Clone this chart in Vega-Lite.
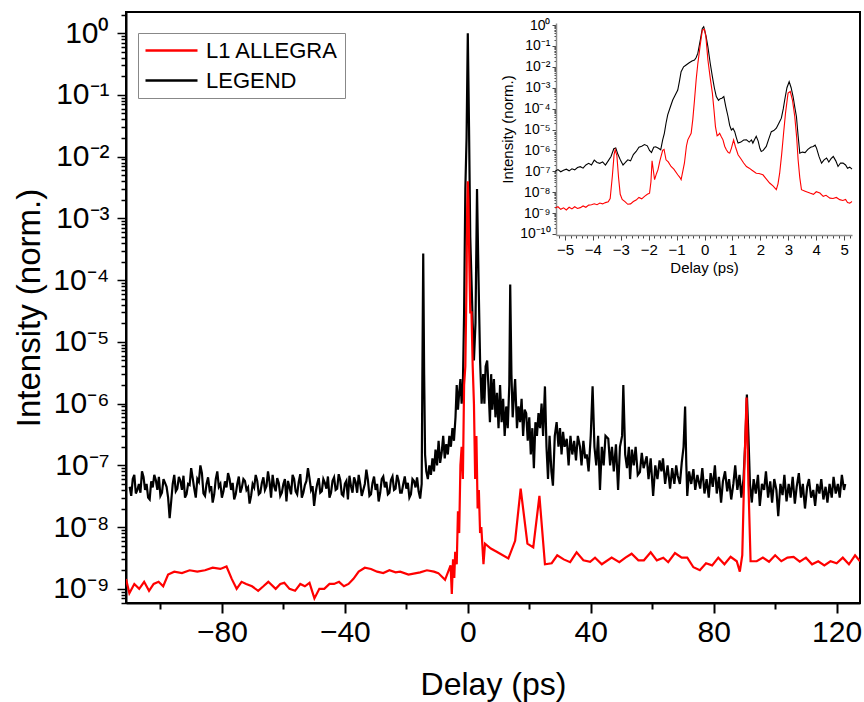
{
"$schema": "https://vega.github.io/schema/vega-lite/v6.json",
"width": 734, "height": 591,
"autosize": {"type": "none"},
"padding": {"left": 126, "top": 12, "right": 4, "bottom": 99},
"background": "white",
"config": {
  "view": {"stroke": "black", "strokeWidth": 2},
  "font": "Liberation Sans",
  "axis": {"grid": false, "labelColor": "black", "titleColor": "black", "titleFontWeight": "normal", "tickColor": "black", "domainColor": "black", "labelFont": "Liberation Sans", "titleFont": "Liberation Sans"}
},
"datasets": {
"main": [
{"series":"LEGEND","x":-110,"y":4.5e-8},{"series":"LEGEND","x":-109.5,"y":3.2e-8},{"series":"LEGEND","x":-109,"y":6e-8},{"series":"LEGEND","x":-108.5,"y":7e-8},{"series":"LEGEND","x":-108,"y":3.5e-8},{"series":"LEGEND","x":-107.5,"y":4e-8},{"series":"LEGEND","x":-107,"y":5e-8},{"series":"LEGEND","x":-106.5,"y":3.6e-8},{"series":"LEGEND","x":-106,"y":8e-8},{"series":"LEGEND","x":-105.5,"y":6.5e-8},{"series":"LEGEND","x":-105,"y":4e-8},{"series":"LEGEND","x":-104.5,"y":5e-8},{"series":"LEGEND","x":-104,"y":3e-8},{"series":"LEGEND","x":-103.5,"y":2.8e-8},{"series":"LEGEND","x":-103,"y":5.5e-8},{"series":"LEGEND","x":-102.5,"y":4.4e-8},{"series":"LEGEND","x":-102,"y":7e-8},{"series":"LEGEND","x":-101.5,"y":5.8e-8},{"series":"LEGEND","x":-101,"y":4e-8},{"series":"LEGEND","x":-100.5,"y":6.5e-8},{"series":"LEGEND","x":-100,"y":3.2e-8},{"series":"LEGEND","x":-99.5,"y":3.6e-8},{"series":"LEGEND","x":-99,"y":6e-8},{"series":"LEGEND","x":-98.5,"y":5.2e-8},{"series":"LEGEND","x":-98,"y":4.5e-8},{"series":"LEGEND","x":-97.5,"y":3e-8},{"series":"LEGEND","x":-97,"y":1.4e-8},{"series":"LEGEND","x":-96.5,"y":2.6e-8},{"series":"LEGEND","x":-96,"y":5e-8},{"series":"LEGEND","x":-95.5,"y":7e-8},{"series":"LEGEND","x":-95,"y":3.8e-8},{"series":"LEGEND","x":-94.5,"y":4.2e-8},{"series":"LEGEND","x":-94,"y":6.5e-8},{"series":"LEGEND","x":-93.5,"y":5.6e-8},{"series":"LEGEND","x":-93,"y":4e-8},{"series":"LEGEND","x":-92.5,"y":6.8e-8},{"series":"LEGEND","x":-92,"y":3e-8},{"series":"LEGEND","x":-91.5,"y":3.4e-8},{"series":"LEGEND","x":-91,"y":5e-8},{"series":"LEGEND","x":-90.5,"y":4.8e-8},{"series":"LEGEND","x":-90,"y":9e-8},{"series":"LEGEND","x":-89.5,"y":6.2e-8},{"series":"LEGEND","x":-89,"y":4.2e-8},{"series":"LEGEND","x":-88.5,"y":3e-8},{"series":"LEGEND","x":-88,"y":6e-8},{"series":"LEGEND","x":-87.5,"y":5.4e-8},{"series":"LEGEND","x":-87,"y":1e-7},{"series":"LEGEND","x":-86.5,"y":7.5e-8},{"series":"LEGEND","x":-86,"y":3.5e-8},{"series":"LEGEND","x":-85.5,"y":3.2e-8},{"series":"LEGEND","x":-85,"y":5e-8},{"series":"LEGEND","x":-84.5,"y":6.4e-8},{"series":"LEGEND","x":-84,"y":4e-8},{"series":"LEGEND","x":-83.5,"y":4.6e-8},{"series":"LEGEND","x":-83,"y":2.5e-8},{"series":"LEGEND","x":-82.5,"y":3.4e-8},{"series":"LEGEND","x":-82,"y":6e-8},{"series":"LEGEND","x":-81.5,"y":8e-8},{"series":"LEGEND","x":-81,"y":4.5e-8},{"series":"LEGEND","x":-80.5,"y":5e-8},{"series":"LEGEND","x":-80,"y":3e-8},{"series":"LEGEND","x":-79.5,"y":3.8e-8},{"series":"LEGEND","x":-79,"y":5.5e-8},{"series":"LEGEND","x":-78.5,"y":4.4e-8},{"series":"LEGEND","x":-78,"y":7.5e-8},{"series":"LEGEND","x":-77.5,"y":6e-8},{"series":"LEGEND","x":-77,"y":4e-8},{"series":"LEGEND","x":-76.5,"y":5.2e-8},{"series":"LEGEND","x":-76,"y":2.8e-8},{"series":"LEGEND","x":-75.5,"y":3.4e-8},{"series":"LEGEND","x":-75,"y":5e-8},{"series":"LEGEND","x":-74.5,"y":6.6e-8},{"series":"LEGEND","x":-74,"y":3.6e-8},{"series":"LEGEND","x":-73.5,"y":4.4e-8},{"series":"LEGEND","x":-73,"y":6e-8},{"series":"LEGEND","x":-72.5,"y":5.6e-8},{"series":"LEGEND","x":-72,"y":4e-8},{"series":"LEGEND","x":-71.5,"y":4.4e-8},{"series":"LEGEND","x":-71,"y":2.4e-8},{"series":"LEGEND","x":-70.5,"y":3.2e-8},{"series":"LEGEND","x":-70,"y":5e-8},{"series":"LEGEND","x":-69.5,"y":4.4e-8},{"series":"LEGEND","x":-69,"y":7e-8},{"series":"LEGEND","x":-68.5,"y":5.6e-8},{"series":"LEGEND","x":-68,"y":3.4e-8},{"series":"LEGEND","x":-67.5,"y":3.6e-8},{"series":"LEGEND","x":-67,"y":5.2e-8},{"series":"LEGEND","x":-66.5,"y":6.4e-8},{"series":"LEGEND","x":-66,"y":4e-8},{"series":"LEGEND","x":-65.5,"y":4.6e-8},{"series":"LEGEND","x":-65,"y":8e-8},{"series":"LEGEND","x":-64.5,"y":5.4e-8},{"series":"LEGEND","x":-64,"y":3e-8},{"series":"LEGEND","x":-63.5,"y":7e-8},{"series":"LEGEND","x":-63,"y":4.6e-8},{"series":"LEGEND","x":-62.5,"y":3.8e-8},{"series":"LEGEND","x":-62,"y":6.2e-8},{"series":"LEGEND","x":-61.5,"y":5.2e-8},{"series":"LEGEND","x":-61,"y":3.2e-8},{"series":"LEGEND","x":-60.5,"y":3.6e-8},{"series":"LEGEND","x":-60,"y":5e-8},{"series":"LEGEND","x":-59.5,"y":6e-8},{"series":"LEGEND","x":-59,"y":2.6e-8},{"series":"LEGEND","x":-58.5,"y":5.6e-8},{"series":"LEGEND","x":-58,"y":4.4e-8},{"series":"LEGEND","x":-57.5,"y":3.4e-8},{"series":"LEGEND","x":-57,"y":7e-8},{"series":"LEGEND","x":-56.5,"y":6e-8},{"series":"LEGEND","x":-56,"y":3.8e-8},{"series":"LEGEND","x":-55.5,"y":3.4e-8},{"series":"LEGEND","x":-55,"y":5.4e-8},{"series":"LEGEND","x":-54.5,"y":7.2e-8},{"series":"LEGEND","x":-54,"y":3e-8},{"series":"LEGEND","x":-53.5,"y":3.6e-8},{"series":"LEGEND","x":-53,"y":4.8e-8},{"series":"LEGEND","x":-52.5,"y":5.6e-8},{"series":"LEGEND","x":-52,"y":9e-8},{"series":"LEGEND","x":-51.5,"y":6.2e-8},{"series":"LEGEND","x":-51,"y":4e-8},{"series":"LEGEND","x":-50.5,"y":4.6e-8},{"series":"LEGEND","x":-50,"y":2.2e-8},{"series":"LEGEND","x":-49.5,"y":3.6e-8},{"series":"LEGEND","x":-49,"y":5e-8},{"series":"LEGEND","x":-48.5,"y":6.2e-8},{"series":"LEGEND","x":-48,"y":3.6e-8},{"series":"LEGEND","x":-47.5,"y":3.8e-8},{"series":"LEGEND","x":-47,"y":6e-8},{"series":"LEGEND","x":-46.5,"y":5.2e-8},{"series":"LEGEND","x":-46,"y":4.2e-8},{"series":"LEGEND","x":-45.5,"y":6.6e-8},{"series":"LEGEND","x":-45,"y":3e-8},{"series":"LEGEND","x":-44.5,"y":3.6e-8},{"series":"LEGEND","x":-44,"y":5.6e-8},{"series":"LEGEND","x":-43.5,"y":6.4e-8},{"series":"LEGEND","x":-43,"y":4e-8},{"series":"LEGEND","x":-42.5,"y":4.2e-8},{"series":"LEGEND","x":-42,"y":7.2e-8},{"series":"LEGEND","x":-41.5,"y":5.8e-8},{"series":"LEGEND","x":-41,"y":3.4e-8},{"series":"LEGEND","x":-40.5,"y":3.2e-8},{"series":"LEGEND","x":-40,"y":5e-8},{"series":"LEGEND","x":-39.5,"y":5.6e-8},{"series":"LEGEND","x":-39,"y":2.8e-8},{"series":"LEGEND","x":-38.5,"y":6.8e-8},{"series":"LEGEND","x":-38,"y":4.6e-8},{"series":"LEGEND","x":-37.5,"y":3.6e-8},{"series":"LEGEND","x":-37,"y":6.4e-8},{"series":"LEGEND","x":-36.5,"y":5.4e-8},{"series":"LEGEND","x":-36,"y":3.6e-8},{"series":"LEGEND","x":-35.5,"y":7e-8},{"series":"LEGEND","x":-35,"y":5e-8},{"series":"LEGEND","x":-34.5,"y":3.2e-8},{"series":"LEGEND","x":-34,"y":4e-8},{"series":"LEGEND","x":-33.5,"y":5e-8},{"series":"LEGEND","x":-33,"y":8.5e-8},{"series":"LEGEND","x":-32.5,"y":5.8e-8},{"series":"LEGEND","x":-32,"y":3.2e-8},{"series":"LEGEND","x":-31.5,"y":3.4e-8},{"series":"LEGEND","x":-31,"y":5.2e-8},{"series":"LEGEND","x":-30.5,"y":6.6e-8},{"series":"LEGEND","x":-30,"y":4e-8},{"series":"LEGEND","x":-29.5,"y":5e-8},{"series":"LEGEND","x":-29,"y":2.6e-8},{"series":"LEGEND","x":-28.5,"y":3.6e-8},{"series":"LEGEND","x":-28,"y":6e-8},{"series":"LEGEND","x":-27.5,"y":6.6e-8},{"series":"LEGEND","x":-27,"y":4.4e-8},{"series":"LEGEND","x":-26.5,"y":5.4e-8},{"series":"LEGEND","x":-26,"y":3.4e-8},{"series":"LEGEND","x":-25.5,"y":3.6e-8},{"series":"LEGEND","x":-25,"y":5.8e-8},{"series":"LEGEND","x":-24.5,"y":6.6e-8},{"series":"LEGEND","x":-24,"y":4e-8},{"series":"LEGEND","x":-23.5,"y":4.2e-8},{"series":"LEGEND","x":-23,"y":7e-8},{"series":"LEGEND","x":-22.5,"y":5.6e-8},{"series":"LEGEND","x":-22,"y":3.6e-8},{"series":"LEGEND","x":-21.5,"y":3.6e-8},{"series":"LEGEND","x":-21,"y":5e-8},{"series":"LEGEND","x":-20.5,"y":6.6e-8},{"series":"LEGEND","x":-20,"y":4.2e-8},{"series":"LEGEND","x":-19.5,"y":5.2e-8},{"series":"LEGEND","x":-19,"y":3e-8},{"series":"LEGEND","x":-18.5,"y":3.4e-8},{"series":"LEGEND","x":-18,"y":6e-8},{"series":"LEGEND","x":-17.5,"y":5.6e-8},{"series":"LEGEND","x":-17,"y":4.4e-8},{"series":"LEGEND","x":-16.5,"y":6.4e-8},{"series":"LEGEND","x":-16,"y":3.8e-8},
{"series":"LEGEND","x":-15.5,"y":2.9e-8},{"series":"LEGEND","x":-15,"y":5e-8},{"series":"LEGEND","x":-14.8,"y":2e-6},{"series":"LEGEND","x":-14.5,"y":2.7e-4},{"series":"LEGEND","x":-14.2,"y":3e-6},{"series":"LEGEND","x":-13.9,"y":1.5e-7},{"series":"LEGEND","x":-13.5,"y":8e-8},{"series":"LEGEND","x":-13,"y":6e-8},{"series":"LEGEND","x":-12.5,"y":1e-7},{"series":"LEGEND","x":-12,"y":7e-8},{"series":"LEGEND","x":-11.5,"y":1.3e-7},{"series":"LEGEND","x":-11,"y":8e-8},{"series":"LEGEND","x":-10.5,"y":1.8e-7},{"series":"LEGEND","x":-10,"y":1e-7},{"series":"LEGEND","x":-9.5,"y":2.5e-7},{"series":"LEGEND","x":-9,"y":1.1e-7},{"series":"LEGEND","x":-8.5,"y":1.6e-7},{"series":"LEGEND","x":-8,"y":3e-7},{"series":"LEGEND","x":-7.5,"y":1.3e-7},{"series":"LEGEND","x":-7,"y":2.2e-7},{"series":"LEGEND","x":-6.5,"y":1.5e-7},{"series":"LEGEND","x":-6,"y":3e-7},{"series":"LEGEND","x":-5.5,"y":2e-7},{"series":"LEGEND","x":-5,"y":4e-7},{"series":"LEGEND","x":-4.5,"y":2.5e-7},{"series":"LEGEND","x":-4,"y":6e-7},{"series":"LEGEND","x":-3.6,"y":2e-6},{"series":"LEGEND","x":-3.2,"y":8e-7},{"series":"LEGEND","x":-2.8,"y":1.5e-6},{"series":"LEGEND","x":-2.4,"y":2.5e-6},{"series":"LEGEND","x":-2,"y":1e-6},{"series":"LEGEND","x":-1.6,"y":2e-6},{"series":"LEGEND","x":-1.2,"y":3e-5},{"series":"LEGEND","x":-0.8,"y":3e-3},{"series":"LEGEND","x":-0.4,"y":2e-2},{"series":"LEGEND","x":0,"y":1.0},{"series":"LEGEND","x":0.4,"y":3e-2},{"series":"LEGEND","x":0.8,"y":5e-4},{"series":"LEGEND","x":1.2,"y":1e-4},{"series":"LEGEND","x":1.6,"y":2e-5},{"series":"LEGEND","x":2,"y":5e-6},{"series":"LEGEND","x":2.5,"y":2e-5},{"series":"LEGEND","x":3,"y":3e-3},{"series":"LEGEND","x":3.5,"y":1e-4},{"series":"LEGEND","x":4,"y":5e-6},{"series":"LEGEND","x":4.5,"y":1e-6},{"series":"LEGEND","x":5,"y":3e-6},{"series":"LEGEND","x":5.4,"y":1e-6},{"series":"LEGEND","x":5.8,"y":4e-6},{"series":"LEGEND","x":6.3,"y":5e-6},{"series":"LEGEND","x":6.7,"y":2e-6},{"series":"LEGEND","x":7.2,"y":5e-7},{"series":"LEGEND","x":7.6,"y":3e-6},{"series":"LEGEND","x":8,"y":8e-7},{"series":"LEGEND","x":8.5,"y":2.5e-6},{"series":"LEGEND","x":9,"y":6e-7},{"series":"LEGEND","x":9.5,"y":1.5e-6},{"series":"LEGEND","x":10,"y":4e-7},{"series":"LEGEND","x":10.5,"y":2e-6},{"series":"LEGEND","x":11,"y":5e-7},{"series":"LEGEND","x":11.5,"y":1.2e-6},{"series":"LEGEND","x":12,"y":3e-7},{"series":"LEGEND","x":12.5,"y":9e-7},{"series":"LEGEND","x":13,"y":4e-7},{"series":"LEGEND","x":13.5,"y":2e-6},{"series":"LEGEND","x":13.8,"y":8.5e-5},{"series":"LEGEND","x":14.2,"y":3e-6},{"series":"LEGEND","x":14.6,"y":6e-7},{"series":"LEGEND","x":15,"y":1.3e-6},{"series":"LEGEND","x":15.4,"y":2.5e-6},{"series":"LEGEND","x":16,"y":4e-7},{"series":"LEGEND","x":16.5,"y":9e-7},{"series":"LEGEND","x":17,"y":5e-7},{"series":"LEGEND","x":17.5,"y":1.2e-6},{"series":"LEGEND","x":18,"y":3e-7},{"series":"LEGEND","x":18.5,"y":8e-7},{"series":"LEGEND","x":19,"y":7e-7},{"series":"LEGEND","x":19.5,"y":2.5e-7},{"series":"LEGEND","x":20,"y":6e-7},{"series":"LEGEND","x":20.5,"y":1.5e-7},{"series":"LEGEND","x":21,"y":4e-7},{"series":"LEGEND","x":21.5,"y":9e-8},{"series":"LEGEND","x":22,"y":5e-7},{"series":"LEGEND","x":22.5,"y":3e-7},{"series":"LEGEND","x":23,"y":7e-7},{"series":"LEGEND","x":23.5,"y":4e-7},{"series":"LEGEND","x":24,"y":1e-6},{"series":"LEGEND","x":24.5,"y":3e-7},{"series":"LEGEND","x":25.1,"y":1.9e-6},{"series":"LEGEND","x":25.6,"y":2e-7},{"series":"LEGEND","x":26.1,"y":6e-8},{"series":"LEGEND","x":26.6,"y":3e-7},{"series":"LEGEND","x":27.2,"y":8e-8},{"series":"LEGEND","x":27.7,"y":4.7e-8},{"series":"LEGEND","x":28.3,"y":3e-7},{"series":"LEGEND","x":28.9,"y":5e-7},{"series":"LEGEND","x":29.5,"y":2e-7},{"series":"LEGEND","x":30,"y":4e-7},{"series":"LEGEND","x":30.5,"y":1.5e-7},{"series":"LEGEND","x":31,"y":3.5e-7},{"series":"LEGEND","x":31.5,"y":2e-7},{"series":"LEGEND","x":32.2,"y":2.7e-7},{"series":"LEGEND","x":32.8,"y":1e-7},{"series":"LEGEND","x":33.4,"y":3e-7},{"series":"LEGEND","x":34,"y":1.5e-7},{"series":"LEGEND","x":34.6,"y":2.5e-7},{"series":"LEGEND","x":35.2,"y":1.2e-7},{"series":"LEGEND","x":35.8,"y":3e-7},{"series":"LEGEND","x":36.5,"y":2e-7},{"series":"LEGEND","x":37,"y":1e-7},{"series":"LEGEND","x":37.6,"y":2.5e-7},{"series":"LEGEND","x":38.2,"y":1.3e-7},{"series":"LEGEND","x":38.7,"y":1.5e-7},{"series":"LEGEND","x":39.3,"y":8e-8},{"series":"LEGEND","x":40,"y":3e-7},{"series":"LEGEND","x":40.6,"y":1.9e-6},{"series":"LEGEND","x":41.2,"y":2e-7},{"series":"LEGEND","x":41.8,"y":1e-7},{"series":"LEGEND","x":42.4,"y":3e-7},{"series":"LEGEND","x":43,"y":4e-8},{"series":"LEGEND","x":43.6,"y":2e-7},{"series":"LEGEND","x":44.2,"y":1e-7},{"series":"LEGEND","x":44.8,"y":3e-7},{"series":"LEGEND","x":45.7,"y":2.7e-7},{"series":"LEGEND","x":46.3,"y":1e-7},{"series":"LEGEND","x":46.9,"y":2e-7},{"series":"LEGEND","x":47.5,"y":8e-8},{"series":"LEGEND","x":48.2,"y":2.2e-7},{"series":"LEGEND","x":48.9,"y":4e-8},{"series":"LEGEND","x":49.5,"y":2e-7},{"series":"LEGEND","x":50.2,"y":3e-7},{"series":"LEGEND","x":50.6,"y":2e-6},{"series":"LEGEND","x":51.2,"y":1.5e-7},{"series":"LEGEND","x":51.8,"y":9e-8},{"series":"LEGEND","x":52.4,"y":2e-7},{"series":"LEGEND","x":52.8,"y":6e-8},{"series":"LEGEND","x":53.4,"y":1.8e-7},{"series":"LEGEND","x":54,"y":1e-7},{"series":"LEGEND","x":54.6,"y":2e-7},{"series":"LEGEND","x":55.3,"y":7e-8},{"series":"LEGEND","x":56,"y":7.8e-8},{"series":"LEGEND","x":56.6,"y":1.6e-7},{"series":"LEGEND","x":57.2,"y":9e-8},{"series":"LEGEND","x":58.2,"y":1.4e-7},{"series":"LEGEND","x":58.8,"y":6e-8},{"series":"LEGEND","x":59.5,"y":1.3e-7},{"series":"LEGEND","x":60.3,"y":3.2e-8},{"series":"LEGEND","x":61,"y":1e-7},{"series":"LEGEND","x":61.7,"y":6e-8},{"series":"LEGEND","x":62.4,"y":1.2e-7},{"series":"LEGEND","x":63,"y":8e-8},{"series":"LEGEND","x":63.5,"y":1.3e-7},{"series":"LEGEND","x":64.2,"y":5e-8},{"series":"LEGEND","x":65,"y":1e-7},{"series":"LEGEND","x":65.8,"y":4.2e-8},{"series":"LEGEND","x":66.5,"y":9e-8},{"series":"LEGEND","x":67.2,"y":5e-8},{"series":"LEGEND","x":67.8,"y":1e-7},{"series":"LEGEND","x":68.3,"y":6.8e-8},{"series":"LEGEND","x":69,"y":5e-8},{"series":"LEGEND","x":69.6,"y":1.1e-7},{"series":"LEGEND","x":70.2,"y":2e-7},{"series":"LEGEND","x":70.7,"y":9e-7},{"series":"LEGEND","x":71.1,"y":1e-7},{"series":"LEGEND","x":71.4,"y":3.2e-8},{"series":"LEGEND","x":72,"y":8e-8},{"series":"LEGEND","x":72.7,"y":5e-8},{"series":"LEGEND","x":73.4,"y":8.7e-8},{"series":"LEGEND","x":74,"y":4e-8},{"series":"LEGEND","x":74.7,"y":7e-8},{"series":"LEGEND","x":75.6,"y":4.2e-8},{"series":"LEGEND","x":76.3,"y":9e-8},{"series":"LEGEND","x":77,"y":3.5e-8},{"series":"LEGEND","x":77.7,"y":6e-8},{"series":"LEGEND","x":78.4,"y":3e-8},{"series":"LEGEND","x":79,"y":7.5e-8},{"series":"LEGEND","x":79.7,"y":4.5e-8},{"series":"LEGEND","x":80.4,"y":1e-7},{"series":"LEGEND","x":81,"y":3.5e-8},{"series":"LEGEND","x":81.7,"y":6.5e-8},{"series":"LEGEND","x":82.4,"y":2.5e-8},{"series":"LEGEND","x":83,"y":5.5e-8},{"series":"LEGEND","x":83.7,"y":8e-8},{"series":"LEGEND","x":84.4,"y":3.8e-8},{"series":"LEGEND","x":85,"y":6e-8},{"series":"LEGEND","x":85.7,"y":2.8e-8},{"series":"LEGEND","x":86.4,"y":5e-8},{"series":"LEGEND","x":87,"y":1e-7},{"series":"LEGEND","x":87.7,"y":4e-8},{"series":"LEGEND","x":88.4,"y":7e-8},{"series":"LEGEND","x":89,"y":3e-8},{"series":"LEGEND","x":89.7,"y":6e-8},{"series":"LEGEND","x":90.3,"y":2.5e-7},{"series":"LEGEND","x":90.8,"y":1.4e-6},{"series":"LEGEND","x":91.3,"y":3e-7},{"series":"LEGEND","x":91.8,"y":5e-8},{"series":"LEGEND","x":92.4,"y":2.5e-8},{"series":"LEGEND","x":93,"y":6e-8},{"series":"LEGEND","x":93.7,"y":3.5e-8},{"series":"LEGEND","x":94.4,"y":7e-8},{"series":"LEGEND","x":95,"y":2.2e-8},{"series":"LEGEND","x":95.7,"y":5e-8},{"series":"LEGEND","x":96.4,"y":4e-8},{"series":"LEGEND","x":97,"y":8e-8},{"series":"LEGEND","x":97.7,"y":3e-8},{"series":"LEGEND","x":98.4,"y":5.5e-8},{"series":"LEGEND","x":99,"y":2.5e-8},{"series":"LEGEND","x":99.7,"y":6e-8},{"series":"LEGEND","x":100.4,"y":4e-8},{"series":"LEGEND","x":101,"y":1.5e-8},{"series":"LEGEND","x":101.7,"y":5e-8},{"series":"LEGEND","x":102.4,"y":3.3e-8},{"series":"LEGEND","x":103,"y":7e-8},{"series":"LEGEND","x":103.7,"y":2.6e-8},{"series":"LEGEND","x":104.4,"y":5e-8},{"series":"LEGEND","x":105,"y":3e-8},{"series":"LEGEND","x":105.7,"y":6.5e-8},{"series":"LEGEND","x":106.4,"y":2.4e-8},{"series":"LEGEND","x":107,"y":4.5e-8},{"series":"LEGEND","x":107.7,"y":7.5e-8},{"series":"LEGEND","x":108.4,"y":3e-8},{"series":"LEGEND","x":109,"y":5e-8},{"series":"LEGEND","x":109.7,"y":2e-8},{"series":"LEGEND","x":110.4,"y":4.5e-8},{"series":"LEGEND","x":111,"y":6e-8},{"series":"LEGEND","x":111.7,"y":3e-8},{"series":"LEGEND","x":112.4,"y":4e-8},{"series":"LEGEND","x":113,"y":2.2e-8},{"series":"LEGEND","x":113.7,"y":5e-8},{"series":"LEGEND","x":114.4,"y":3.5e-8},{"series":"LEGEND","x":115,"y":6e-8},{"series":"LEGEND","x":115.7,"y":2.8e-8},{"series":"LEGEND","x":116.4,"y":4.5e-8},{"series":"LEGEND","x":117,"y":2.5e-8},{"series":"LEGEND","x":117.7,"y":5e-8},{"series":"LEGEND","x":118.4,"y":3e-8},{"series":"LEGEND","x":119,"y":6.5e-8},{"series":"LEGEND","x":119.7,"y":3.5e-8},{"series":"LEGEND","x":120.4,"y":5e-8},{"series":"LEGEND","x":121,"y":3e-8},{"series":"LEGEND","x":121.7,"y":7e-8},{"series":"LEGEND","x":122.4,"y":4e-8},{"series":"LEGEND","x":122.8,"y":5e-8},
{"series":"L1 ALLEGRA","x":-111.2,"y":1.45e-9},{"series":"L1 ALLEGRA","x":-110.1,"y":8.5e-10},{"series":"L1 ALLEGRA","x":-108.5,"y":1.2e-9},{"series":"L1 ALLEGRA","x":-106.9,"y":1e-9},{"series":"L1 ALLEGRA","x":-105.3,"y":1.3e-9},{"series":"L1 ALLEGRA","x":-103.7,"y":9.3e-10},{"series":"L1 ALLEGRA","x":-102.2,"y":1.2e-9},{"series":"L1 ALLEGRA","x":-100.6,"y":1.3e-9},{"series":"L1 ALLEGRA","x":-99.1,"y":1.1e-9},{"series":"L1 ALLEGRA","x":-97.5,"y":1.7e-9},{"series":"L1 ALLEGRA","x":-95.5,"y":1.9e-9},{"series":"L1 ALLEGRA","x":-93,"y":1.8e-9},{"series":"L1 ALLEGRA","x":-90.5,"y":2e-9},{"series":"L1 ALLEGRA","x":-88,"y":1.9e-9},{"series":"L1 ALLEGRA","x":-85.5,"y":2e-9},{"series":"L1 ALLEGRA","x":-83,"y":2.2e-9},{"series":"L1 ALLEGRA","x":-80.5,"y":2.1e-9},{"series":"L1 ALLEGRA","x":-78.5,"y":2.3e-9},{"series":"L1 ALLEGRA","x":-76.8,"y":1.45e-9},{"series":"L1 ALLEGRA","x":-75.2,"y":1e-9},{"series":"L1 ALLEGRA","x":-73.6,"y":1.3e-9},{"series":"L1 ALLEGRA","x":-72.1,"y":1.2e-9},{"series":"L1 ALLEGRA","x":-70.2,"y":1.1e-9},{"series":"L1 ALLEGRA","x":-68.2,"y":9.3e-10},{"series":"L1 ALLEGRA","x":-66.5,"y":1.1e-9},{"series":"L1 ALLEGRA","x":-64.9,"y":1.3e-9},{"series":"L1 ALLEGRA","x":-62.5,"y":1e-9},{"series":"L1 ALLEGRA","x":-61,"y":1.2e-9},{"series":"L1 ALLEGRA","x":-59.7,"y":1.25e-9},{"series":"L1 ALLEGRA","x":-58,"y":1e-9},{"series":"L1 ALLEGRA","x":-56.2,"y":9.3e-10},{"series":"L1 ALLEGRA","x":-54.5,"y":1.2e-9},{"series":"L1 ALLEGRA","x":-53,"y":1.1e-9},{"series":"L1 ALLEGRA","x":-51.5,"y":1.25e-9},{"series":"L1 ALLEGRA","x":-49.9,"y":7e-10},{"series":"L1 ALLEGRA","x":-48.3,"y":1e-9},{"series":"L1 ALLEGRA","x":-46.7,"y":1e-9},{"series":"L1 ALLEGRA","x":-45,"y":1.2e-9},{"series":"L1 ALLEGRA","x":-43.5,"y":1.2e-9},{"series":"L1 ALLEGRA","x":-41.9,"y":1.3e-9},{"series":"L1 ALLEGRA","x":-40.3,"y":1.1e-9},{"series":"L1 ALLEGRA","x":-38.8,"y":1.2e-9},{"series":"L1 ALLEGRA","x":-37.2,"y":1.45e-9},{"series":"L1 ALLEGRA","x":-35.5,"y":1.9e-9},{"series":"L1 ALLEGRA","x":-33.5,"y":2.2e-9},{"series":"L1 ALLEGRA","x":-31.5,"y":2.1e-9},{"series":"L1 ALLEGRA","x":-29.5,"y":1.9e-9},{"series":"L1 ALLEGRA","x":-27.5,"y":1.8e-9},{"series":"L1 ALLEGRA","x":-25.5,"y":2e-9},{"series":"L1 ALLEGRA","x":-23.5,"y":1.85e-9},{"series":"L1 ALLEGRA","x":-22,"y":1.9e-9},{"series":"L1 ALLEGRA","x":-19.3,"y":1.7e-9},{"series":"L1 ALLEGRA","x":-15.5,"y":1.85e-9},{"series":"L1 ALLEGRA","x":-13.3,"y":2e-9},{"series":"L1 ALLEGRA","x":-11,"y":1.9e-9},{"series":"L1 ALLEGRA","x":-9.6,"y":1.8e-9},{"series":"L1 ALLEGRA","x":-7.4,"y":1.4e-9},{"series":"L1 ALLEGRA","x":-5.6,"y":2.4e-9},{"series":"L1 ALLEGRA","x":-5.2,"y":8.3e-10},{"series":"L1 ALLEGRA","x":-4.8,"y":3e-9},{"series":"L1 ALLEGRA","x":-4.4,"y":1.5e-9},{"series":"L1 ALLEGRA","x":-4.1,"y":4e-9},{"series":"L1 ALLEGRA","x":-3.6,"y":2.5e-9},{"series":"L1 ALLEGRA","x":-3.2,"y":1.8e-8},{"series":"L1 ALLEGRA","x":-2.8,"y":8e-9},{"series":"L1 ALLEGRA","x":-2.4,"y":1e-7},{"series":"L1 ALLEGRA","x":-2,"y":2e-7},{"series":"L1 ALLEGRA","x":-1.6,"y":6e-8},{"series":"L1 ALLEGRA","x":-1.2,"y":2e-6},{"series":"L1 ALLEGRA","x":-0.8,"y":4e-6},{"series":"L1 ALLEGRA","x":-0.4,"y":1e-4},{"series":"L1 ALLEGRA","x":-0.2,"y":1.5e-3},{"series":"L1 ALLEGRA","x":0,"y":4e-3},{"series":"L1 ALLEGRA","x":0.2,"y":2e-3},{"series":"L1 ALLEGRA","x":0.5,"y":2e-4},{"series":"L1 ALLEGRA","x":0.8,"y":3e-5},{"series":"L1 ALLEGRA","x":1.2,"y":3e-5},{"series":"L1 ALLEGRA","x":1.6,"y":4e-6},{"series":"L1 ALLEGRA","x":2,"y":1e-6},{"series":"L1 ALLEGRA","x":2.4,"y":6e-8},{"series":"L1 ALLEGRA","x":2.8,"y":3e-7},{"series":"L1 ALLEGRA","x":3.2,"y":2e-8},{"series":"L1 ALLEGRA","x":3.6,"y":4e-8},{"series":"L1 ALLEGRA","x":4,"y":8e-9},{"series":"L1 ALLEGRA","x":4.4,"y":1e-8},{"series":"L1 ALLEGRA","x":5.1,"y":2.5e-9},{"series":"L1 ALLEGRA","x":5.6,"y":5.4e-9},{"series":"L1 ALLEGRA","x":7.5,"y":4.5e-9},{"series":"L1 ALLEGRA","x":9.4,"y":4e-9},{"series":"L1 ALLEGRA","x":13.2,"y":3.1e-9},{"series":"L1 ALLEGRA","x":15.4,"y":6e-9},{"series":"L1 ALLEGRA","x":17.2,"y":4.2e-8},{"series":"L1 ALLEGRA","x":19.4,"y":5.4e-9},{"series":"L1 ALLEGRA","x":21.3,"y":4.7e-9},{"series":"L1 ALLEGRA","x":23.3,"y":3.2e-8},{"series":"L1 ALLEGRA","x":25.1,"y":2.5e-9},{"series":"L1 ALLEGRA","x":27.3,"y":2.6e-9},{"series":"L1 ALLEGRA","x":29.1,"y":3.5e-9},{"series":"L1 ALLEGRA","x":31.2,"y":3e-9},{"series":"L1 ALLEGRA","x":33.3,"y":2.7e-9},{"series":"L1 ALLEGRA","x":35.4,"y":3.9e-9},{"series":"L1 ALLEGRA","x":37.6,"y":2.9e-9},{"series":"L1 ALLEGRA","x":39.8,"y":2.75e-9},{"series":"L1 ALLEGRA","x":41.4,"y":3.2e-9},{"series":"L1 ALLEGRA","x":43.6,"y":2.5e-9},{"series":"L1 ALLEGRA","x":46.8,"y":3.2e-9},{"series":"L1 ALLEGRA","x":49.3,"y":2.7e-9},{"series":"L1 ALLEGRA","x":51.3,"y":3.2e-9},{"series":"L1 ALLEGRA","x":53.3,"y":3.7e-9},{"series":"L1 ALLEGRA","x":55.5,"y":2.9e-9},{"series":"L1 ALLEGRA","x":57.3,"y":2.9e-9},{"series":"L1 ALLEGRA","x":59.5,"y":3.9e-9},{"series":"L1 ALLEGRA","x":61.5,"y":2.9e-9},{"series":"L1 ALLEGRA","x":63.6,"y":3.2e-9},{"series":"L1 ALLEGRA","x":65.2,"y":2.7e-9},{"series":"L1 ALLEGRA","x":67.4,"y":3.8e-9},{"series":"L1 ALLEGRA","x":69.6,"y":3.2e-9},{"series":"L1 ALLEGRA","x":71.4,"y":3.2e-9},{"series":"L1 ALLEGRA","x":73.4,"y":2.24e-9},{"series":"L1 ALLEGRA","x":75.5,"y":2e-9},{"series":"L1 ALLEGRA","x":77.5,"y":2.6e-9},{"series":"L1 ALLEGRA","x":79.5,"y":2.4e-9},{"series":"L1 ALLEGRA","x":81.5,"y":3.2e-9},{"series":"L1 ALLEGRA","x":83.5,"y":2.5e-9},{"series":"L1 ALLEGRA","x":85.5,"y":3.3e-9},{"series":"L1 ALLEGRA","x":87.5,"y":2.8e-9},{"series":"L1 ALLEGRA","x":88.5,"y":1.9e-9},{"series":"L1 ALLEGRA","x":89.3,"y":3.5e-9},{"series":"L1 ALLEGRA","x":90,"y":1e-7},{"series":"L1 ALLEGRA","x":90.7,"y":1.26e-6},{"series":"L1 ALLEGRA","x":91.3,"y":5e-8},{"series":"L1 ALLEGRA","x":92,"y":2.8e-9},{"series":"L1 ALLEGRA","x":94,"y":2.8e-9},{"series":"L1 ALLEGRA","x":96,"y":3.2e-9},{"series":"L1 ALLEGRA","x":98,"y":2.75e-9},{"series":"L1 ALLEGRA","x":100,"y":3.5e-9},{"series":"L1 ALLEGRA","x":102,"y":2.8e-9},{"series":"L1 ALLEGRA","x":104,"y":3.2e-9},{"series":"L1 ALLEGRA","x":106,"y":3.3e-9},{"series":"L1 ALLEGRA","x":108,"y":2.75e-9},{"series":"L1 ALLEGRA","x":110,"y":3.2e-9},{"series":"L1 ALLEGRA","x":112,"y":2.5e-9},{"series":"L1 ALLEGRA","x":114,"y":2.8e-9},{"series":"L1 ALLEGRA","x":116,"y":2.4e-9},{"series":"L1 ALLEGRA","x":118,"y":2.8e-9},{"series":"L1 ALLEGRA","x":120,"y":2.6e-9},{"series":"L1 ALLEGRA","x":122,"y":3.2e-9},{"series":"L1 ALLEGRA","x":124,"y":2.5e-9},{"series":"L1 ALLEGRA","x":126,"y":3.5e-9},{"series":"L1 ALLEGRA","x":127.6,"y":2.8e-9}
],
"inset": [
{"series":"LEGEND","x":-5.35,"y":1e-7},{"series":"LEGEND","x":-5.25,"y":1.2e-7},{"series":"LEGEND","x":-5.15,"y":9.5e-8},{"series":"LEGEND","x":-5.05,"y":1.12e-7},{"series":"LEGEND","x":-4.95,"y":1.26e-7},{"series":"LEGEND","x":-4.85,"y":1.05e-7},{"series":"LEGEND","x":-4.75,"y":1.32e-7},{"series":"LEGEND","x":-4.65,"y":1.17e-7},{"series":"LEGEND","x":-4.55,"y":1.51e-7},{"series":"LEGEND","x":-4.45,"y":1.66e-7},{"series":"LEGEND","x":-4.35,"y":1.41e-7},{"series":"LEGEND","x":-4.25,"y":2e-7},{"series":"LEGEND","x":-4.15,"y":2.4e-7},{"series":"LEGEND","x":-4.05,"y":2e-7},{"series":"LEGEND","x":-3.95,"y":3.4e-7},{"series":"LEGEND","x":-3.85,"y":2.63e-7},{"series":"LEGEND","x":-3.75,"y":2.4e-7},{"series":"LEGEND","x":-3.65,"y":2.82e-7},{"series":"LEGEND","x":-3.55,"y":2e-7},{"series":"LEGEND","x":-3.45,"y":3.16e-7},{"series":"LEGEND","x":-3.35,"y":5.1e-7},{"series":"LEGEND","x":-3.25,"y":1.2e-6},{"series":"LEGEND","x":-3.18,"y":1.32e-6},{"series":"LEGEND","x":-3.1,"y":6.3e-7},{"series":"LEGEND","x":-3,"y":3.16e-7},{"series":"LEGEND","x":-2.92,"y":2e-7},{"series":"LEGEND","x":-2.85,"y":2.5e-7},{"series":"LEGEND","x":-2.75,"y":3.55e-7},{"series":"LEGEND","x":-2.65,"y":3.16e-7},{"series":"LEGEND","x":-2.55,"y":6.3e-7},{"series":"LEGEND","x":-2.45,"y":8.9e-7},{"series":"LEGEND","x":-2.35,"y":1.41e-6},{"series":"LEGEND","x":-2.25,"y":1.58e-6},{"series":"LEGEND","x":-2.15,"y":1.9e-6},{"series":"LEGEND","x":-2.05,"y":1.66e-6},{"series":"LEGEND","x":-1.97,"y":1e-6},{"series":"LEGEND","x":-1.9,"y":7.9e-7},{"series":"LEGEND","x":-1.82,"y":1.41e-6},{"series":"LEGEND","x":-1.75,"y":1.5e-6},{"series":"LEGEND","x":-1.65,"y":1.26e-6},{"series":"LEGEND","x":-1.57,"y":1.07e-6},{"series":"LEGEND","x":-1.5,"y":3.16e-6},{"series":"LEGEND","x":-1.44,"y":6.6e-6},{"series":"LEGEND","x":-1.38,"y":2e-5},{"series":"LEGEND","x":-1.32,"y":5e-5},{"series":"LEGEND","x":-1.22,"y":1.26e-4},{"series":"LEGEND","x":-1.14,"y":2.6e-4},{"series":"LEGEND","x":-1.05,"y":4.5e-4},{"series":"LEGEND","x":-0.96,"y":7.8e-4},{"series":"LEGEND","x":-0.9,"y":2e-3},{"series":"LEGEND","x":-0.84,"y":5.9e-3},{"series":"LEGEND","x":-0.75,"y":1e-2},{"series":"LEGEND","x":-0.66,"y":1.23e-2},{"series":"LEGEND","x":-0.55,"y":1.58e-2},{"series":"LEGEND","x":-0.45,"y":1.9e-2},{"series":"LEGEND","x":-0.36,"y":2.14e-2},{"series":"LEGEND","x":-0.3,"y":2.8e-2},{"series":"LEGEND","x":-0.24,"y":4.5e-2},{"series":"LEGEND","x":-0.15,"y":0.2},{"series":"LEGEND","x":-0.08,"y":0.69},{"series":"LEGEND","x":-0.03,"y":0.83},{"series":"LEGEND","x":0.05,"y":0.316},{"series":"LEGEND","x":0.12,"y":9.1e-2},{"series":"LEGEND","x":0.2,"y":1.58e-2},{"series":"LEGEND","x":0.28,"y":3.4e-3},{"series":"LEGEND","x":0.35,"y":1e-3},{"series":"LEGEND","x":0.42,"y":3.8e-4},{"series":"LEGEND","x":0.5,"y":2.5e-4},{"series":"LEGEND","x":0.56,"y":3e-4},{"series":"LEGEND","x":0.62,"y":3.16e-4},{"series":"LEGEND","x":0.69,"y":3.8e-4},{"series":"LEGEND","x":0.76,"y":1.26e-4},{"series":"LEGEND","x":0.84,"y":4.2e-5},{"series":"LEGEND","x":0.9,"y":1.58e-5},{"series":"LEGEND","x":0.96,"y":9.5e-6},{"series":"LEGEND","x":1.02,"y":1.12e-5},{"series":"LEGEND","x":1.08,"y":7.9e-6},{"series":"LEGEND","x":1.14,"y":4e-6},{"series":"LEGEND","x":1.2,"y":2.24e-6},{"series":"LEGEND","x":1.3,"y":2.5e-6},{"series":"LEGEND","x":1.4,"y":3.16e-6},{"series":"LEGEND","x":1.5,"y":3.2e-6},{"series":"LEGEND","x":1.6,"y":2.5e-6},{"series":"LEGEND","x":1.68,"y":3.16e-6},{"series":"LEGEND","x":1.73,"y":2.24e-6},{"series":"LEGEND","x":1.8,"y":3.55e-6},{"series":"LEGEND","x":1.85,"y":4.7e-6},{"series":"LEGEND","x":1.92,"y":2.8e-6},{"series":"LEGEND","x":1.98,"y":1.26e-6},{"series":"LEGEND","x":2.03,"y":8.9e-7},{"series":"LEGEND","x":2.1,"y":1e-6},{"series":"LEGEND","x":2.21,"y":1.55e-6},{"series":"LEGEND","x":2.3,"y":3.55e-6},{"series":"LEGEND","x":2.39,"y":7.9e-6},{"series":"LEGEND","x":2.48,"y":8.9e-6},{"series":"LEGEND","x":2.57,"y":1.15e-5},{"series":"LEGEND","x":2.66,"y":2e-5},{"series":"LEGEND","x":2.75,"y":3.5e-5},{"series":"LEGEND","x":2.82,"y":1e-4},{"series":"LEGEND","x":2.87,"y":2.6e-4},{"series":"LEGEND","x":2.95,"y":1e-3},{"series":"LEGEND","x":3.03,"y":1.95e-3},{"series":"LEGEND","x":3.1,"y":1e-3},{"series":"LEGEND","x":3.17,"y":3.8e-4},{"series":"LEGEND","x":3.24,"y":1e-4},{"series":"LEGEND","x":3.29,"y":4.2e-5},{"series":"LEGEND","x":3.35,"y":5e-6},{"series":"LEGEND","x":3.41,"y":7.4e-7},{"series":"LEGEND","x":3.5,"y":8.3e-7},{"series":"LEGEND","x":3.6,"y":7.9e-7},{"series":"LEGEND","x":3.7,"y":1.12e-6},{"series":"LEGEND","x":3.8,"y":1.41e-6},{"series":"LEGEND","x":3.89,"y":1.55e-6},{"series":"LEGEND","x":3.96,"y":1.78e-6},{"series":"LEGEND","x":4.01,"y":1.29e-6},{"series":"LEGEND","x":4.1,"y":5e-7},{"series":"LEGEND","x":4.19,"y":2.45e-7},{"series":"LEGEND","x":4.28,"y":3.55e-7},{"series":"LEGEND","x":4.37,"y":4.3e-7},{"series":"LEGEND","x":4.45,"y":2.8e-7},{"series":"LEGEND","x":4.53,"y":4e-7},{"series":"LEGEND","x":4.61,"y":5.1e-7},{"series":"LEGEND","x":4.7,"y":3.16e-7},{"series":"LEGEND","x":4.78,"y":1.7e-7},{"series":"LEGEND","x":4.87,"y":2.5e-7},{"series":"LEGEND","x":4.96,"y":2.45e-7},{"series":"LEGEND","x":5.05,"y":2e-7},{"series":"LEGEND","x":5.12,"y":1.41e-7},{"series":"LEGEND","x":5.2,"y":1.58e-7},{"series":"LEGEND","x":5.28,"y":1.26e-7},
{"series":"L1 ALLEGRA","x":-5.35,"y":1.74e-9},{"series":"L1 ALLEGRA","x":-5.25,"y":2e-9},{"series":"L1 ALLEGRA","x":-5.15,"y":1.51e-9},{"series":"L1 ALLEGRA","x":-5.05,"y":1.78e-9},{"series":"L1 ALLEGRA","x":-4.95,"y":1.41e-9},{"series":"L1 ALLEGRA","x":-4.85,"y":1.9e-9},{"series":"L1 ALLEGRA","x":-4.75,"y":1.58e-9},{"series":"L1 ALLEGRA","x":-4.65,"y":2e-9},{"series":"L1 ALLEGRA","x":-4.55,"y":1.66e-9},{"series":"L1 ALLEGRA","x":-4.45,"y":1.82e-9},{"series":"L1 ALLEGRA","x":-4.35,"y":2.2e-9},{"series":"L1 ALLEGRA","x":-4.25,"y":1.9e-9},{"series":"L1 ALLEGRA","x":-4.15,"y":2.4e-9},{"series":"L1 ALLEGRA","x":-4.05,"y":2.5e-9},{"series":"L1 ALLEGRA","x":-3.95,"y":2.8e-9},{"series":"L1 ALLEGRA","x":-3.85,"y":2.5e-9},{"series":"L1 ALLEGRA","x":-3.75,"y":3e-9},{"series":"L1 ALLEGRA","x":-3.65,"y":2.75e-9},{"series":"L1 ALLEGRA","x":-3.55,"y":3.16e-9},{"series":"L1 ALLEGRA","x":-3.45,"y":3.5e-9},{"series":"L1 ALLEGRA","x":-3.38,"y":5e-9},{"series":"L1 ALLEGRA","x":-3.3,"y":6.3e-8},{"series":"L1 ALLEGRA","x":-3.24,"y":6.3e-7},{"series":"L1 ALLEGRA","x":-3.2,"y":1.07e-6},{"series":"L1 ALLEGRA","x":-3.14,"y":5.6e-7},{"series":"L1 ALLEGRA","x":-3.08,"y":5e-8},{"series":"L1 ALLEGRA","x":-3.02,"y":7.9e-9},{"series":"L1 ALLEGRA","x":-2.95,"y":4.5e-9},{"series":"L1 ALLEGRA","x":-2.85,"y":3.55e-9},{"series":"L1 ALLEGRA","x":-2.75,"y":2.63e-9},{"series":"L1 ALLEGRA","x":-2.65,"y":2.75e-9},{"series":"L1 ALLEGRA","x":-2.55,"y":3.55e-9},{"series":"L1 ALLEGRA","x":-2.45,"y":4.2e-9},{"series":"L1 ALLEGRA","x":-2.35,"y":5.6e-9},{"series":"L1 ALLEGRA","x":-2.25,"y":4.8e-9},{"series":"L1 ALLEGRA","x":-2.15,"y":6.3e-9},{"series":"L1 ALLEGRA","x":-2.05,"y":7.9e-9},{"series":"L1 ALLEGRA","x":-1.97,"y":8.9e-9},{"series":"L1 ALLEGRA","x":-1.92,"y":3.16e-8},{"series":"L1 ALLEGRA","x":-1.88,"y":3.16e-7},{"series":"L1 ALLEGRA","x":-1.83,"y":1e-7},{"series":"L1 ALLEGRA","x":-1.79,"y":4e-8},{"series":"L1 ALLEGRA","x":-1.72,"y":7.9e-8},{"series":"L1 ALLEGRA","x":-1.67,"y":1.17e-7},{"series":"L1 ALLEGRA","x":-1.6,"y":3.16e-7},{"series":"L1 ALLEGRA","x":-1.56,"y":5e-7},{"series":"L1 ALLEGRA","x":-1.5,"y":1e-6},{"series":"L1 ALLEGRA","x":-1.45,"y":1.12e-6},{"series":"L1 ALLEGRA","x":-1.38,"y":3.55e-7},{"series":"L1 ALLEGRA","x":-1.3,"y":2.8e-7},{"series":"L1 ALLEGRA","x":-1.2,"y":1.7e-7},{"series":"L1 ALLEGRA","x":-1.1,"y":1.26e-7},{"series":"L1 ALLEGRA","x":-0.96,"y":6.8e-8},{"series":"L1 ALLEGRA","x":-0.88,"y":5e-8},{"series":"L1 ALLEGRA","x":-0.84,"y":4e-8},{"series":"L1 ALLEGRA","x":-0.78,"y":1e-7},{"series":"L1 ALLEGRA","x":-0.72,"y":2.5e-7},{"series":"L1 ALLEGRA","x":-0.65,"y":1.58e-6},{"series":"L1 ALLEGRA","x":-0.6,"y":3.2e-6},{"series":"L1 ALLEGRA","x":-0.48,"y":6.6e-6},{"series":"L1 ALLEGRA","x":-0.42,"y":3.16e-5},{"series":"L1 ALLEGRA","x":-0.36,"y":2.6e-4},{"series":"L1 ALLEGRA","x":-0.3,"y":2.5e-3},{"series":"L1 ALLEGRA","x":-0.24,"y":1.48e-2},{"series":"L1 ALLEGRA","x":-0.15,"y":0.126},{"series":"L1 ALLEGRA","x":-0.08,"y":0.575},{"series":"L1 ALLEGRA","x":0,"y":0.63},{"series":"L1 ALLEGRA","x":0.05,"y":0.25},{"series":"L1 ALLEGRA","x":0.12,"y":2.14e-2},{"series":"L1 ALLEGRA","x":0.2,"y":3.16e-3},{"series":"L1 ALLEGRA","x":0.28,"y":5.5e-4},{"series":"L1 ALLEGRA","x":0.34,"y":7.9e-5},{"series":"L1 ALLEGRA","x":0.39,"y":1.38e-5},{"series":"L1 ALLEGRA","x":0.45,"y":5e-6},{"series":"L1 ALLEGRA","x":0.5,"y":5.6e-6},{"series":"L1 ALLEGRA","x":0.54,"y":6.6e-6},{"series":"L1 ALLEGRA","x":0.6,"y":4.5e-6},{"series":"L1 ALLEGRA","x":0.66,"y":3.2e-6},{"series":"L1 ALLEGRA","x":0.72,"y":1.58e-6},{"series":"L1 ALLEGRA","x":0.78,"y":1.07e-6},{"series":"L1 ALLEGRA","x":0.85,"y":7.9e-7},{"series":"L1 ALLEGRA","x":0.9,"y":7.4e-7},{"series":"L1 ALLEGRA","x":0.96,"y":1.26e-6},{"series":"L1 ALLEGRA","x":1.04,"y":3.2e-6},{"series":"L1 ALLEGRA","x":1.1,"y":1.58e-6},{"series":"L1 ALLEGRA","x":1.2,"y":6.2e-7},{"series":"L1 ALLEGRA","x":1.3,"y":4e-7},{"series":"L1 ALLEGRA","x":1.4,"y":2.5e-7},{"series":"L1 ALLEGRA","x":1.5,"y":1.7e-7},{"series":"L1 ALLEGRA","x":1.6,"y":1.41e-7},{"series":"L1 ALLEGRA","x":1.7,"y":1.12e-7},{"series":"L1 ALLEGRA","x":1.85,"y":8.1e-8},{"series":"L1 ALLEGRA","x":1.95,"y":7.9e-8},{"series":"L1 ALLEGRA","x":2.09,"y":6.8e-8},{"series":"L1 ALLEGRA","x":2.2,"y":4.5e-8},{"series":"L1 ALLEGRA","x":2.33,"y":2.75e-8},{"series":"L1 ALLEGRA","x":2.45,"y":2e-8},{"series":"L1 ALLEGRA","x":2.57,"y":1.32e-8},{"series":"L1 ALLEGRA","x":2.63,"y":2.5e-8},{"series":"L1 ALLEGRA","x":2.69,"y":8.1e-8},{"series":"L1 ALLEGRA","x":2.76,"y":6.3e-7},{"series":"L1 ALLEGRA","x":2.83,"y":6.6e-6},{"series":"L1 ALLEGRA","x":2.9,"y":6.3e-5},{"series":"L1 ALLEGRA","x":2.99,"y":5.5e-4},{"series":"L1 ALLEGRA","x":3.07,"y":6.6e-4},{"series":"L1 ALLEGRA","x":3.15,"y":2.5e-4},{"series":"L1 ALLEGRA","x":3.23,"y":4.2e-5},{"series":"L1 ALLEGRA","x":3.3,"y":4e-6},{"series":"L1 ALLEGRA","x":3.35,"y":3.55e-7},{"series":"L1 ALLEGRA","x":3.41,"y":5e-8},{"series":"L1 ALLEGRA","x":3.47,"y":1.32e-8},{"series":"L1 ALLEGRA","x":3.6,"y":1.12e-8},{"series":"L1 ALLEGRA","x":3.77,"y":9.1e-9},{"series":"L1 ALLEGRA","x":3.9,"y":7.9e-9},{"series":"L1 ALLEGRA","x":4,"y":1.05e-8},{"series":"L1 ALLEGRA","x":4.13,"y":9.1e-9},{"series":"L1 ALLEGRA","x":4.25,"y":6.3e-9},{"series":"L1 ALLEGRA","x":4.35,"y":7.1e-9},{"series":"L1 ALLEGRA","x":4.49,"y":5.2e-9},{"series":"L1 ALLEGRA","x":4.6,"y":5e-9},{"series":"L1 ALLEGRA","x":4.72,"y":5.6e-9},{"series":"L1 ALLEGRA","x":4.84,"y":4.4e-9},{"series":"L1 ALLEGRA","x":4.95,"y":4e-9},{"series":"L1 ALLEGRA","x":5.05,"y":4.5e-9},{"series":"L1 ALLEGRA","x":5.12,"y":3.16e-9},{"series":"L1 ALLEGRA","x":5.2,"y":3e-9},{"series":"L1 ALLEGRA","x":5.28,"y":3.55e-9}
]
},
"layer": [
  {
    "data": {"name": "main"},
    "encoding": {
      "x": {"field": "x", "type": "quantitative",
        "scale": {"domain": [-111.2, 127.6], "nice": false, "zero": false},
        "axis": {"title": "Delay (ps)", "orient": "bottom",
          "values": [-100,-80,-60,-40,-20,0,20,40,60,80,100,120],
          "format": "d",
          "labelExpr": "datum.value % 40 == 0 ? datum.label : ''",
          "tickSize": {"condition": {"test": "datum.value % 40 == 0", "value": 10}, "value": 6},
          "tickWidth": 2, "domainWidth": 2, "labelFontSize": 30, "titleFontSize": 32,
          "labelPadding": 4, "titlePadding": 22, "labelOverlap": false, "labelFlush": false}},
      "y": {"field": "y", "type": "quantitative",
        "scale": {"type": "log", "domain": [5.9e-10, 2.2], "nice": false},
        "axis": {"title": "Intensity (norm.)", "orient": "left",
          "values": [6e-10,7e-10,8e-10,9e-10,1e-9,2e-9,3e-9,4e-9,5e-9,6e-9,7e-9,8e-9,9e-9,1e-8,2e-8,3e-8,4e-8,5e-8,6e-8,7e-8,8e-8,9e-8,1e-7,2e-7,3e-7,4e-7,5e-7,6e-7,7e-7,8e-7,9e-7,1e-6,2e-6,3e-6,4e-6,5e-6,6e-6,7e-6,8e-6,9e-6,1e-5,2e-5,3e-5,4e-5,5e-5,6e-5,7e-5,8e-5,9e-5,1e-4,2e-4,3e-4,4e-4,5e-4,6e-4,7e-4,8e-4,9e-4,1e-3,2e-3,3e-3,4e-3,5e-3,6e-3,7e-3,8e-3,9e-3,1e-2,2e-2,3e-2,4e-2,5e-2,6e-2,7e-2,8e-2,9e-2,1e-1,2e-1,3e-1,4e-1,5e-1,6e-1,7e-1,8e-1,9e-1,1,2],
          "labelExpr": "abs(log(datum.value)/LN10 - round(log(datum.value)/LN10)) < 0.001 ? '10' + (round(log(datum.value)/LN10) < 0 ? '⁻' : '') + ['⁰','¹','²','³','⁴','⁵','⁶','⁷','⁸','⁹','¹⁰'][abs(round(log(datum.value)/LN10))] : ''",
          "tickSize": {"condition": {"test": "abs(log(datum.value)/LN10 - round(log(datum.value)/LN10)) < 0.001", "value": 9}, "value": 5},
          "tickWidth": 1.5, "domainWidth": 2, "labelFontSize": 30, "titleFontSize": 33,
          "labelPadding": 8, "titlePadding": 6, "labelOverlap": false}},
      "color": {"field": "series", "type": "nominal",
        "scale": {"domain": ["L1 ALLEGRA", "LEGEND"], "range": ["#ff0000", "#000000"]},
        "legend": {"title": null, "orient": "none", "legendX": 12, "legendY": 21,
          "strokeColor": "#888888", "fillColor": "white", "padding": 6,
          "labelFontSize": 22, "labelFont": "Liberation Sans", "labelColor": "black",
          "symbolType": "M-1,0H4.2", "symbolSize": 400, "symbolStrokeWidth": 2.5,
          "labelOffset": 39, "rowPadding": 7}}
    },
    "layer": [
      {"transform": [{"filter": "datum.series == 'LEGEND'"}], "mark": {"type": "line", "strokeWidth": 2.2, "clip": true}},
      {"transform": [{"filter": "datum.series == 'L1 ALLEGRA'"}], "mark": {"type": "line", "strokeWidth": 2.2, "clip": true}}
    ]
  },
  {
    "data": {"name": "inset"},
    "encoding": {
      "x": {"field": "x", "type": "quantitative",
        "scale": {"domain": [-5.32, 5.28], "range": [430, 726], "nice": false, "zero": false},
        "axis": {"title": "Delay (ps)", "orient": "bottom", "offset": -368,
          "values": [-5.2,-5,-4.8,-4.6,-4.4,-4.2,-4,-3.8,-3.6,-3.4,-3.2,-3,-2.8,-2.6,-2.4,-2.2,-2,-1.8,-1.6,-1.4,-1.2,-1,-0.8,-0.6,-0.4,-0.2,0,0.2,0.4,0.6,0.8,1,1.2,1.4,1.6,1.8,2,2.2,2.4,2.6,2.8,3,3.2,3.4,3.6,3.8,4,4.2,4.4,4.6,4.8,5,5.2],
          "labelExpr": "abs(datum.value - round(datum.value)) < 0.001 ? format(round(datum.value), 'd') : ''",
          "tickSize": {"condition": {"test": "abs(datum.value - round(datum.value)) < 0.001", "value": 5}, "value": 3},
          "domainColor": "#8c8c8c", "domainWidth": 1.5, "tickColor": "#444444", "tickWidth": 1,
          "labelFontSize": 15, "titleFontSize": 15, "labelPadding": 2, "titlePadding": 3, "labelOverlap": false, "labelFlush": false}},
      "y": {"field": "y", "type": "quantitative",
        "scale": {"type": "log", "domain": [8.9e-11, 1.26], "range": [223, 11], "nice": false},
        "axis": {"title": "Intensity (norm.)", "orient": "left", "offset": -430,
          "values": [1e-10,2e-10,3e-10,4e-10,5e-10,6e-10,7e-10,8e-10,9e-10,1e-9,2e-9,3e-9,4e-9,5e-9,6e-9,7e-9,8e-9,9e-9,1e-8,2e-8,3e-8,4e-8,5e-8,6e-8,7e-8,8e-8,9e-8,1e-7,2e-7,3e-7,4e-7,5e-7,6e-7,7e-7,8e-7,9e-7,1e-6,2e-6,3e-6,4e-6,5e-6,6e-6,7e-6,8e-6,9e-6,1e-5,2e-5,3e-5,4e-5,5e-5,6e-5,7e-5,8e-5,9e-5,1e-4,2e-4,3e-4,4e-4,5e-4,6e-4,7e-4,8e-4,9e-4,1e-3,2e-3,3e-3,4e-3,5e-3,6e-3,7e-3,8e-3,9e-3,1e-2,2e-2,3e-2,4e-2,5e-2,6e-2,7e-2,8e-2,9e-2,1e-1,2e-1,3e-1,4e-1,5e-1,6e-1,7e-1,8e-1,9e-1,1],
          "labelExpr": "abs(log(datum.value)/LN10 - round(log(datum.value)/LN10)) < 0.001 ? '10' + (round(log(datum.value)/LN10) < 0 ? '⁻' : '') + ['⁰','¹','²','³','⁴','⁵','⁶','⁷','⁸','⁹','¹⁰'][abs(round(log(datum.value)/LN10))] : ''",
          "tickSize": {"condition": {"test": "abs(log(datum.value)/LN10 - round(log(datum.value)/LN10)) < 0.001", "value": 4}, "value": 2},
          "domainColor": "#8c8c8c", "domainWidth": 1.5, "tickColor": "#444444", "tickWidth": 1,
          "labelFontSize": 14, "titleFontSize": 15, "labelPadding": 2, "titlePadding": 4, "labelOverlap": false}}
    },
    "layer": [
      {"data": {"values": [{}]}, "mark": {"type": "rect", "fill": "white", "stroke": "#8c8c8c", "strokeWidth": 1.5},
        "encoding": {"x": {"datum": -5.32}, "x2": {"datum": 5.28}, "y": {"datum": 1.26}, "y2": {"datum": 8.9e-11}}},
      {"transform": [{"filter": "datum.series == 'LEGEND'"}], "mark": {"type": "line", "strokeWidth": 1.1, "color": "#000000", "clip": true}},
      {"transform": [{"filter": "datum.series == 'L1 ALLEGRA'"}], "mark": {"type": "line", "strokeWidth": 1.1, "color": "#ff0000", "clip": true}}
    ]
  }
],
"resolve": {"scale": {"x": "independent", "y": "independent"}}
}
